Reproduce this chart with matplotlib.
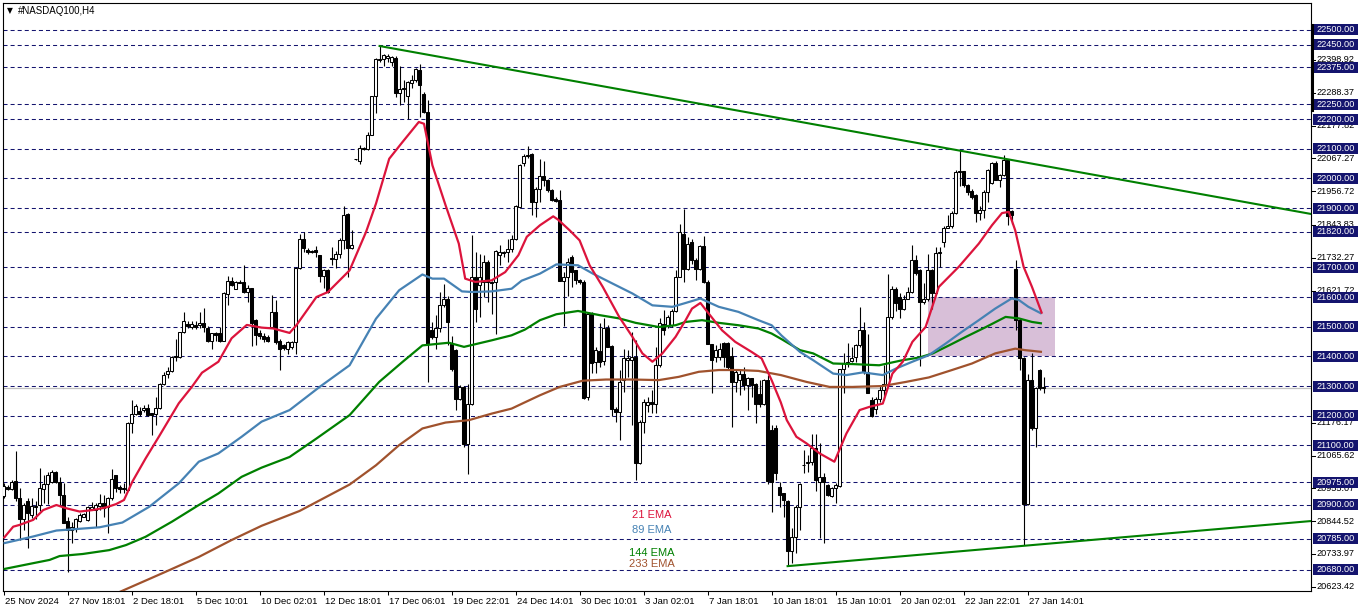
import matplotlib
matplotlib.use('Agg')
import matplotlib.pyplot as plt
import matplotlib.transforms as mtrans
from matplotlib.patches import Rectangle
import numpy as np

plt.rcParams['font.family'] = ['Liberation Sans', 'DejaVu Sans']
plt.rcParams['lines.scale_dashes'] = False

# ---------------- DATA ----------------
title = "#NASDAQ100,H4"

opens = [20929,20961,20952,20980,20922,20851,20913,20865,20893,20899,
         20953,20969,20975,21009,20975,20933,20845,20815,20817,20846,
         20860,20849,20884,20882,20896,20905,20891,20922,20999,20961,
         20952,20950,21174,21206,21216,21219,21225,21208,21206,21227,
         21306,21341,21352,21397,21397,21481,21509,21500,21507,21506,
         21514,21497,21453,21479,21480,21453,21609,21655,21628,21652,
         21651,21618,21629,21523,21480,21469,21466,21499,21550,21451,
         21437,21426,21432,21447,21698,21794,21757,21756,21757,21741,
         21671,21690,21727,21727,21746,21791,21879,21766,22064,22060,
         22102,22100,22147,22277,22400,22403,22405,22392,22405,22288,
         22304,22277,22322,22332,22366,22285,22225,21488,21466,21494,
         21572,21595,21443,21421,21258,21297,21106,21241,21668,21640,
         21651,21718,21651,21651,21741,21752,21752,21763,21794,21903,
         22053,22075,22082,21920,21965,22007,21993,21962,21932,21926,
         21654,21668,21735,21690,21657,21651,21263,21544,21382,21419,
         21384,21497,21434,21224,21213,21320,21389,21387,21398,21041,
         21180,21236,21247,21240,21370,21510,21502,21505,21553,21668,
         21814,21696,21786,21724,21696,21771,21651,21441,21398,21398,
         21446,21446,21401,21314,21320,21342,21303,21328,21306,21273,
         21241,21320,21151,21157,20961,20939,20914,20745,20790,20893,
         21033,21039,21045,21090,20978,20992,20967,20928,20955,20963,
         21356,21378,21385,21398,21437,21488,21348,21253,21224,21255,
         21286,21306,21533,21628,21600,21558,21595,21617,21726,21690,
         21584,21592,21690,21614,21748,21786,21834,21838,21883,22021,
         22025,21977,21957,21943,21883,21895,21954,21985,22052,21996,
         22010,22061,21890,21693,21522,21393,20902,21320,21157,21353,
         21295]
highs = [20972,20966,20982,21081,20957,20905,20922,20922,20914,21023,
         21000,21011,21017,21015,20994,20972,20857,20843,20854,20871,
         20871,20896,20908,20905,20935,20933,20927,21019,20999,20966,
         20972,21180,21253,21239,21230,21236,21239,21210,21264,21309,
         21348,21365,21401,21457,21483,21551,21520,21518,21520,21551,
         21562,21502,21480,21483,21498,21616,21671,21669,21655,21657,
         21708,21640,21631,21526,21489,21478,21471,21606,21589,21460,
         21443,21451,21453,21701,21814,21819,21766,21760,21771,21743,
         21696,21696,21769,21754,21800,21907,21883,21825,22066,22111,
         22105,22156,22279,22405,22446,22420,22420,22412,22414,22380,
         22330,22327,22347,22373,22386,22291,22263,21516,21539,21617,
         21645,21605,21470,21426,21302,21300,21308,21810,21752,21746,
         21741,21724,21655,21757,21777,21754,21794,21808,21911,22049,
         22083,22110,22087,21971,22066,22060,21999,21965,21937,21960,
         21685,21730,21741,21692,21662,21657,21550,21550,21432,21511,
         21528,21505,21438,21230,21353,21426,21423,21483,21454,21185,
         21255,21264,21286,21432,21528,21556,21539,21558,21690,21847,
         21898,21803,21794,21730,21775,21805,21657,21443,21437,21446,
         21449,21449,21432,21354,21354,21365,21331,21328,21309,21320,
         21325,21337,21168,21170,20978,20939,20916,20822,20899,20974,
         21084,21067,21140,21140,21107,21008,20970,20961,20972,21359,
         21410,21446,21432,21443,21567,21516,21477,21264,21264,21303,
         21370,21679,21636,21634,21612,21606,21634,21774,21741,21696,
         21648,21746,21696,21769,21769,21838,21876,21890,22027,22094,
         22025,21982,21965,21946,21906,21960,22033,22055,22058,22016,
         22078,22066,21892,21724,21528,21398,21342,21410,21297,21356,
         21331]
lows = [20922,20950,20950,20914,20781,20815,20753,20854,20853,20880,
        20905,20902,20972,20972,20899,20837,20674,20770,20809,20843,
        20857,20846,20882,20824,20882,20860,20804,20916,20942,20939,
        20939,20947,21141,21202,21200,21214,21200,21134,21169,21224,
        21303,21326,21348,21385,21393,21478,21494,21491,21493,21497,
        21481,21450,21424,21452,21450,21452,21573,21638,21626,21646,
        21615,21582,21436,21438,21457,21450,21448,21494,21443,21353,
        21421,21409,21426,21409,21696,21752,21746,21748,21735,21651,
        21632,21615,21707,21699,21732,21763,21668,21763,22062,22049,
        22094,22094,22145,22221,22392,22380,22392,22378,22274,22246,
        22257,22201,22304,22324,22206,22221,21312,21460,21426,21482,
        21567,21440,21350,21219,21252,21095,21005,21235,21516,21532,
        21600,21583,21544,21477,21707,21735,21718,21752,21791,21900,
        22041,22070,21875,21870,21920,21975,21954,21924,21920,21654,
        21502,21603,21634,21645,21645,21255,21252,21345,21345,21365,
        21370,21432,21199,21180,21118,21280,21331,21168,20983,21037,
        21143,21213,21208,21208,21365,21471,21494,21499,21550,21666,
        21651,21690,21710,21657,21690,21648,21441,21278,21382,21387,
        21365,21354,21163,21280,21269,21286,21219,21264,21176,21230,
        21236,20970,20876,20984,20894,20860,20697,20703,20736,20816,
        21006,21011,21034,20946,20787,20772,20929,20925,20907,20961,
        21275,21365,21381,21381,21432,21342,21275,21196,21205,21247,
        21253,21303,21527,21553,21528,21556,21592,21614,21673,21367,
        21578,21587,21561,21609,21702,21769,21834,21834,21879,21973,
        21971,21943,21932,21853,21859,21865,21920,21980,21993,21971,
        22007,21842,21847,21488,21353,20764,20899,21151,21095,21286,
        21275]
closes = [20964,20952,20978,20922,20851,20899,20871,20896,20897,20955,
          20969,21000,21011,20975,20933,20840,20815,20824,20851,20865,
          20868,20891,20893,20900,20905,20888,20922,20988,20955,20952,
          20957,21174,21205,21233,21206,21225,21204,21202,21227,21306,
          21337,21352,21399,21401,21481,21518,21503,21509,21498,21512,
          21500,21453,21478,21472,21453,21612,21655,21642,21651,21646,
          21618,21629,21511,21472,21469,21460,21451,21550,21448,21424,
          21429,21447,21448,21698,21794,21766,21752,21752,21752,21671,
          21690,21617,21732,21746,21791,21875,21766,21777,22064,22102,
          22098,22147,22277,22403,22403,22416,22414,22408,22288,22302,
          22300,22324,22332,22367,22313,22225,21443,21466,21494,21572,
          21595,21516,21359,21258,21297,21106,21241,21668,21559,21668,
          21718,21651,21646,21754,21752,21748,21763,21794,21907,22046,
          22077,22080,21920,21965,22007,21993,21962,21928,21924,21654,
          21668,21718,21685,21657,21651,21261,21544,21378,21421,21382,
          21494,21432,21224,21213,21314,21393,21396,21398,21041,21180,
          21247,21247,21240,21370,21513,21488,21533,21553,21668,21819,
          21696,21780,21724,21696,21771,21651,21441,21387,21421,21426,
          21398,21365,21314,21348,21342,21303,21328,21303,21241,21238,
          21320,20980,20977,21006,20933,20916,20745,20790,20893,20970,
          21034,21045,21090,20983,20992,20978,20933,20955,20967,21356,
          21378,21382,21393,21437,21488,21348,21277,21199,21255,21286,
          21306,21533,21628,21580,21561,21595,21617,21726,21681,21584,
          21592,21690,21614,21749,21752,21834,21838,21883,22021,22025,
          21977,21954,21937,21883,21895,21954,22029,22052,21996,22010,
          22061,21872,21875,21522,21393,20902,21320,21157,21292,21292,
          21298]

# EMA readings (bar index, price)
ema21_bar = [0,2.4,4,7.4,9.9,13.2,15.7,19,22.3,25.6,28.1,30.1,32.2,35.5,38.8,43.8,47.1,49.6,53.7,57,60.8,64.5,
             67.4,71.5,73.2,78.2,81.1,86.5,90.6,93.1,96.4,99.7,103.8,105.1,107.2,110.5,113.8,115.4,117.9,122,125.4,
             128.7,130.8,134.1,137.4,138.6,141.5,144,146.5,149.8,153.9,157.2,159.7,162.2,164.7,168,170.5,172.1,174.2,
             176.3,179.6,182.9,187,189.5,192,194.3,195.8,198.2,200.7,204,207.7,210.7,214,216.5,219.8,222.2,224.8,
             227.2,230.5,233.8,238.8,243.8,247.1,249.6,251.3,252.9,255,257.1,259.6]
ema21_val = [20787,20826,20832,20849,20882,20899,20888,20877,20882,20891,20902,20916,20978,21056,21129,21242,21298,21345,21382,21461,21506,21497,
             21494,21479,21505,21600,21617,21690,21819,21915,22066,22122,22190,22184,22044,21909,21780,21662,21651,21656,21684,
             21741,21803,21842,21872,21861,21825,21791,21707,21634,21533,21466,21410,21382,21410,21466,21522,21561,21580,
             21544,21488,21449,21415,21393,21320,21245,21185,21129,21107,21073,21045,21140,21219,21230,21241,21342,21382,
             21449,21499,21634,21702,21780,21842,21883,21887,21825,21702,21634,21544]

ema89_bar = [0,7.4,13.2,24,29.7,36.4,43.8,48.8,53.7,59.5,64.5,71.5,79,86.5,93.1,98.9,104.7,107.2,110.1,114.6,117.1,122,127,
             129.5,134.1,138.2,143.6,147.3,152.3,157.2,162.2,167.2,170.5,174.2,178.8,183.7,188.7,192,194.5,199.1,202.4,
             207.4,210.7,214.8,219.8,223.1,227.2,231.3,235.5,239.6,243.8,247.9,252,253.7,256.2,259.5]
ema89_val = [20770,20793,20813,20824,20840,20893,20972,21045,21073,21129,21180,21219,21297,21370,21527,21623,21676,21662,21662,21619,21617,21619,21628,
             21655,21679,21710,21707,21679,21645,21612,21572,21567,21580,21595,21567,21550,21522,21505,21470,21415,21387,
             21342,21337,21346,21337,21359,21382,21404,21443,21483,21522,21561,21595,21591,21567,21544]

ema144_bar = [0,7.4,11.5,14,19.8,26.4,30.6,35.5,42.1,48.8,53.7,59.5,64.5,71.5,78.2,86.5,93.9,99.7,104.7,111.3,115.1,122,127,
              130.3,134.1,138.2,143.6,149,153.9,158,163.8,168,170.5,174.6,178.8,183.7,188.7,192,194.5,199.1,202.4,207.4,
              212.3,218.9,224.7,228.9,232.3,236.5,240.6,245.6,250.5,253.8,257.1,259.6]
ema144_val = [20683,20703,20714,20727,20734,20747,20764,20792,20843,20899,20938,20994,21025,21061,21123,21202,21314,21381,21437,21446,21432,21454,21471,
              21490,21522,21542,21553,21539,21528,21513,21499,21505,21516,21522,21513,21505,21494,21477,21458,21421,21410,21376,
              21374,21370,21387,21396,21410,21438,21466,21499,21533,21528,21516,21511]

ema233_bar = [28,36.8,40.5,48.8,57,64.5,74,86.5,93.1,98.9,104.7,110.5,116.3,122,127,130.3,134.1,139,144.8,150.6,157.2,163.8,
              168.8,173.8,178.8,183.7,188.7,194.3,200.7,206.5,212.3,219.8,225.6,231.3,237.1,242.1,247.9,252.9,255.4,259.6]
ema233_val = [20600,20652,20674,20724,20781,20829,20879,20968,21033,21101,21157,21177,21185,21207,21224,21245,21269,21297,21318,21322,21322,21320,
              21331,21348,21354,21354,21351,21337,21314,21297,21297,21300,21314,21329,21354,21376,21410,21426,21421,21415]

# horizontal levels (navy dashed + boxed labels)
levels = [22500,22450,22375,22250,22200,22100,22000,21900,21820,21700,
          21600,21500,21400,21300,21200,21100,20975,20900,20785,20680]
# plain price-scale labels
scale_labels = ["22398.92","22288.37","22177.82","22067.27","21956.72","21843.83",
                "21732.27","21621.72","21176.17","21065.62","20955.07","20844.52",
                "20733.97","20623.42"]
bid_price = 21292

# trend lines: (bar, price) anchors
upper_trend_bar = [94, 326.85]
upper_trend_val = [22446, 21880]
lower_trend_bar = [196, 326.85]
lower_trend_val = [20693, 20845]

# zone rectangle
zone_bars = [231.1, 262.85]
zone_prices = [21400, 21600]

# time axis labels every 16 bars
time_tick_bars = list(range(0, 257, 16))
time_labels = ["25 Nov 2024","27 Nov 18:01","2 Dec 18:01","5 Dec 10:01","10 Dec 02:01",
               "12 Dec 18:01","17 Dec 06:01","19 Dec 22:01","24 Dec 14:01","30 Dec 10:01",
               "3 Jan 02:01","7 Jan 18:01","10 Jan 18:01","15 Jan 10:01","20 Jan 02:01",
               "22 Jan 22:01","27 Jan 14:01"]

ema_names = ["21 EMA", "89 EMA", "144 EMA", "233 EMA"]
ema_colors = ["#DC143C", "#4682B4", "#008000", "#A0522D"]
ema_label_bar = 162.1
ema_label_price = [20865, 20815, 20737, 20700]

# ---------------- FIGURE ----------------
W, H = 1362, 611
fig = plt.figure(figsize=(W/100, H/100), dpi=100)
fig.patch.set_facecolor('white')
L, R, T, B = 3, 1311, 3, 591
ax = fig.add_axes([L/W, (H-B)/H, (R-L)/W, (B-T)/H])
k = 540/1820.0
ax.set_xlim(-0.15, -0.15 + (R-L)/4.0)
ax.set_ylim(22500 - (B-30)/k, 22500 + (30-T)/k)
for s in ax.spines.values():
    s.set_linewidth(0.8)
    s.set_color('black')
ax.set_yticks([])
ax.set_xticks(time_tick_bars)
ax.tick_params(axis='x', length=3, width=0.75, direction='out', labelbottom=False, color='black')

navy = '#14146e'

# zone
ax.add_patch(Rectangle((zone_bars[0], zone_prices[0]), zone_bars[1]-zone_bars[0],
                       zone_prices[1]-zone_prices[0], facecolor='#D8BFD8', edgecolor='none', zorder=0.5))

# dashed levels
for lv in levels:
    ax.axhline(lv, color=navy, lw=0.75, linestyle=(0, (2.9, 2.2)), zorder=1)
# bid line
ax.axhline(bid_price, color='#C0C0C0', lw=0.9, zorder=1.2)

# candles
o = np.array(opens, float); h = np.array(highs, float)
l = np.array(lows, float); c = np.array(closes, float)
x = np.arange(len(c))
ax.vlines(x, l, h, color='black', lw=0.8, zorder=4)
bot = np.minimum(o, c)
hgt = np.maximum(np.abs(c - o), 2.0)
up = c >= o
ax.bar(x[up], hgt[up], bottom=bot[up], width=0.6, facecolor='white', edgecolor='black', lw=0.75, zorder=5)
ax.bar(x[~up], hgt[~up], bottom=bot[~up], width=0.6, facecolor='black', edgecolor='black', lw=0.75, zorder=5)

# EMAs
for bars, vals, col in [(ema233_bar, ema233_val, ema_colors[3]), (ema144_bar, ema144_val, ema_colors[2]),
                        (ema89_bar, ema89_val, ema_colors[1]), (ema21_bar, ema21_val, ema_colors[0])]:
    ax.plot(bars, vals, color=col, lw=1.6, zorder=6, solid_capstyle='butt')

# trend lines
ax.plot(upper_trend_bar, upper_trend_val, color='#008000', lw=1.5, zorder=6)
ax.plot(lower_trend_bar, lower_trend_val, color='#008000', lw=1.5, zorder=6)

# EMA labels
for name, col, p in zip(ema_names, ema_colors, ema_label_price):
    ax.text(ema_label_bar, p, name, color=col, fontsize=8, ha='center', va='center', zorder=7)

# right price scale
tr_y = mtrans.blended_transform_factory(fig.transFigure, ax.transData)
for lab in scale_labels:
    p = float(lab)
    ax.plot([R/W, (R+4)/W], [p, p], transform=tr_y, color='black', lw=0.75, clip_on=False)
    ax.text((R+5)/W, p, lab, transform=tr_y, fontsize=6.6, color='black', ha='left', va='center', clip_on=False)
box_h = 11/k
for lv in levels:
    ax.add_patch(Rectangle(((R+2)/W, lv - box_h/2), 45/W, box_h, transform=tr_y, facecolor=navy,
                           edgecolor='none', clip_on=False, zorder=8))
    ax.text((R+5)/W, lv, f"{lv:.2f}", transform=tr_y, fontsize=6.6, color='white', ha='left', va='center',
            clip_on=False, zorder=9)
# current price marker under label and scroll bar on the scale
ax.add_patch(Rectangle(((R+2)/W, bid_price - 3/k), 42/W, 2.5/k, transform=tr_y, facecolor='black',
                       edgecolor='none', clip_on=False, zorder=7.5))
ax.plot([(R+0.5)/W, (R+0.5)/W], [22500 + 5/k, 22500 - 80/k], transform=tr_y, color='black', lw=2.2,
        clip_on=False, zorder=8)

# time labels
tr_x = mtrans.blended_transform_factory(ax.transData, fig.transFigure)
for b, lab in zip(time_tick_bars, time_labels):
    ax.text(b + 0.35, 1 - 601/H, lab, transform=tr_x, fontsize=6.8, ha='left', va='center', clip_on=False)

# title
fig.text(7/W, 1 - 11/H, "\u25BC", fontsize=5.5, ha='left', va='center', family=['DejaVu Sans'])
fig.text(18/W, 1 - 11/H, title, fontsize=7, ha='left', va='center')

fig.savefig('out.png', dpi=100)
